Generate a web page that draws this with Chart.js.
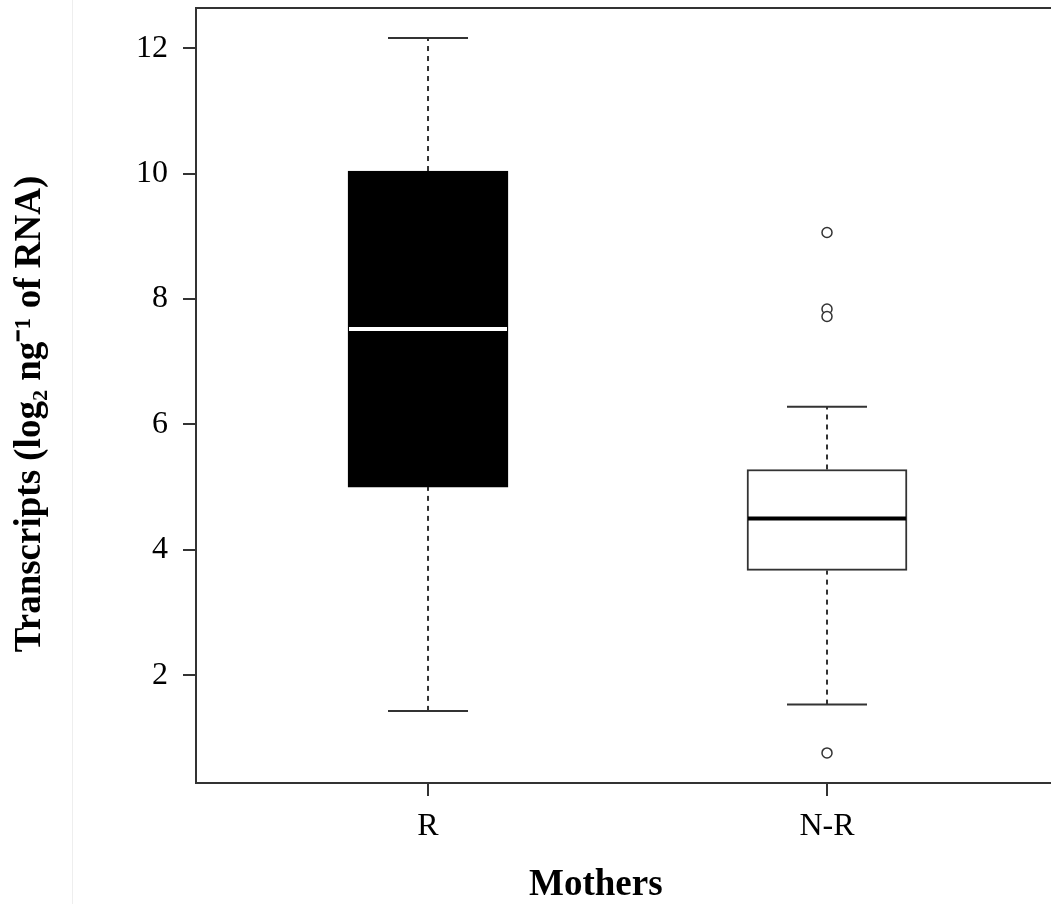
<!DOCTYPE html>
<html>
<head>
<meta charset="utf-8">
<script src="https://cdn.jsdelivr.net/npm/chart.js@4"></script>
<style>
  body { margin: 0; background: #fff; }
  #wrap { position: relative; width: 1051px; height: 904px; overflow: hidden; }
  #edge { position: absolute; left: 72px; top: 0; width: 1px; height: 904px; background: #eeeeee; }
  #box { position: absolute; left: 0; top: 0; width: 1051px; height: 904px; }
</style>
</head>
<body>
<div id="wrap">
  <div id="edge"></div>
  <div id="box"><canvas id="boxChart"></canvas></div>
</div>
<script>
// values
var groups = ['R', 'N-R'];
var whiskerLow = [1.43, 1.53];
var q1 = [5.00, 3.67];
var median = [7.52, 4.50];
var q3 = [10.04, 5.28];
var whiskerHigh = [12.16, 6.28];
var outliers = [[], [9.06, 7.84, 7.72, 0.76]];
var yTicks = [2, 4, 6, 8, 10, 12];

var ink = '#333333';
var serif = "'Liberation Serif', 'Times New Roman', serif";

document.addEventListener('DOMContentLoaded', function () {
    var pos = groups.map(function (g, i) { return i + 1; });

    var whiskers = [];
    pos.forEach(function (x, i) {
        whiskers.push([{ x: x, y: whiskerLow[i] }, { x: x, y: q1[i] }]);
        whiskers.push([{ x: x, y: q3[i] }, { x: x, y: whiskerHigh[i] }]);
    });

    var caps = [];
    pos.forEach(function (x, i) {
        caps.push({ x: x, y: whiskerLow[i] });
        caps.push({ x: x, y: whiskerHigh[i] });
    });

    var outPts = [];
    pos.forEach(function (x, i) {
        outliers[i].forEach(function (v) { outPts.push({ x: x, y: v }); });
    });

    var datasets = [];

    datasets.push({
        type: 'line',
        data: pos.map(function (x, i) { return { x: x, y: median[i] }; }),
        showLine: false,
        pointStyle: 'line',
        pointRadius: 79,
        pointBorderWidth: 4,
        pointBorderColor: ['#ffffff', '#000000'],
        order: 0
    });

    datasets.push({
        type: 'line',
        data: caps,
        showLine: false,
        pointStyle: 'line',
        pointRadius: 40,
        pointBorderWidth: 2,
        pointBorderColor: ink,
        order: 1
    });

    datasets.push({
        type: 'line',
        data: outPts,
        showLine: false,
        pointStyle: 'circle',
        pointRadius: 5,
        pointBorderWidth: 1.5,
        pointBorderColor: ink,
        pointBackgroundColor: '#ffffff',
        order: 1
    });

    datasets.push({
        type: 'bar',
        data: pos.map(function (x, i) { return { x: x, y: [q1[i], q3[i]] }; }),
        backgroundColor: ['#000000', '#ffffff'],
        borderColor: ['#000000', ink],
        borderWidth: 2,
        borderSkipped: false,
        barThickness: 160,
        order: 2
    });

    whiskers.forEach(function (seg) {
        datasets.push({
            type: 'line',
            data: seg,
            borderColor: ink,
            borderWidth: 2,
            borderDash: [5, 5],
            pointRadius: 0,
            order: 3
        });
    });

    // keep the plot box where the figure has it: no extra room for edge labels
    function noEdgePadding(axis) {
        axis.paddingTop = 0;
        axis.paddingBottom = 0;
        axis.paddingLeft = 0;
        axis.paddingRight = 0;
    }

    var ctx = document.getElementById('boxChart').getContext('2d');
    new Chart(ctx, {
        data: { datasets: datasets },
        options: {
            responsive: true,
            maintainAspectRatio: false,
            animation: false,
            layout: { autoPadding: false, padding: { top: 8, left: 0, right: 0, bottom: 0 } },
            plugins: { legend: { display: false }, tooltip: { enabled: false } },
            scales: {
                x: {
                    type: 'linear',
                    position: 'bottom',
                    offset: false,
                    min: 0.4185,
                    max: 2.5614,
                    afterBuildTicks: function (axis) {
                        axis.ticks = pos.map(function (v) { return { value: v }; });
                    },
                    afterFit: function (axis) { axis.height = 121; noEdgePadding(axis); },
                    ticks: {
                        padding: 11,
                        color: '#000',
                        font: { family: serif, size: 32 },
                        callback: function (v) { return groups[v - 1]; }
                    },
                    grid: { offset: false, drawOnChartArea: false, drawTicks: true, tickLength: 13, color: ink, lineWidth: 2 },
                    border: { display: true, color: ink, width: 2 },
                    title: {
                        display: true,
                        text: 'Mothers      ',
                        color: '#000',
                        padding: 0,
                        font: { family: serif, size: 37, weight: 'bold', lineHeight: 1 }
                    }
                },
                x2: {
                    type: 'linear',
                    position: 'top',
                    offset: false,
                    min: 0,
                    max: 1,
                    afterBuildTicks: function (axis) { axis.ticks = []; },
                    afterFit: function (axis) { axis.height = 0; noEdgePadding(axis); },
                    ticks: { display: false },
                    grid: { offset: false, drawOnChartArea: false, drawTicks: false },
                    border: { display: true, color: ink, width: 2 }
                },
                y: {
                    type: 'linear',
                    position: 'left',
                    min: 0.28,
                    max: 12.64,
                    afterBuildTicks: function (axis) {
                        axis.ticks = yTicks.map(function (v) { return { value: v }; });
                    },
                    afterFit: function (axis) { axis.width = 196; noEdgePadding(axis); },
                    ticks: {
                        padding: 15,
                        color: '#000',
                        font: { family: serif, size: 32 }
                    },
                    grid: { drawOnChartArea: false, drawTicks: true, tickLength: 13, color: ink, lineWidth: 2 },
                    border: { display: true, color: ink, width: 2 },
                    title: {
                        display: true,
                        text: 'Transcripts (log\u2082 ng\u207B\u00B9 of RNA)    ',
                        color: '#000',
                        padding: { top: 12, bottom: 0 },
                        font: { family: serif, size: 37, weight: 'bold', lineHeight: 1 }
                    }
                }
            }
        }
    });
});
</script>
</body>
</html>
